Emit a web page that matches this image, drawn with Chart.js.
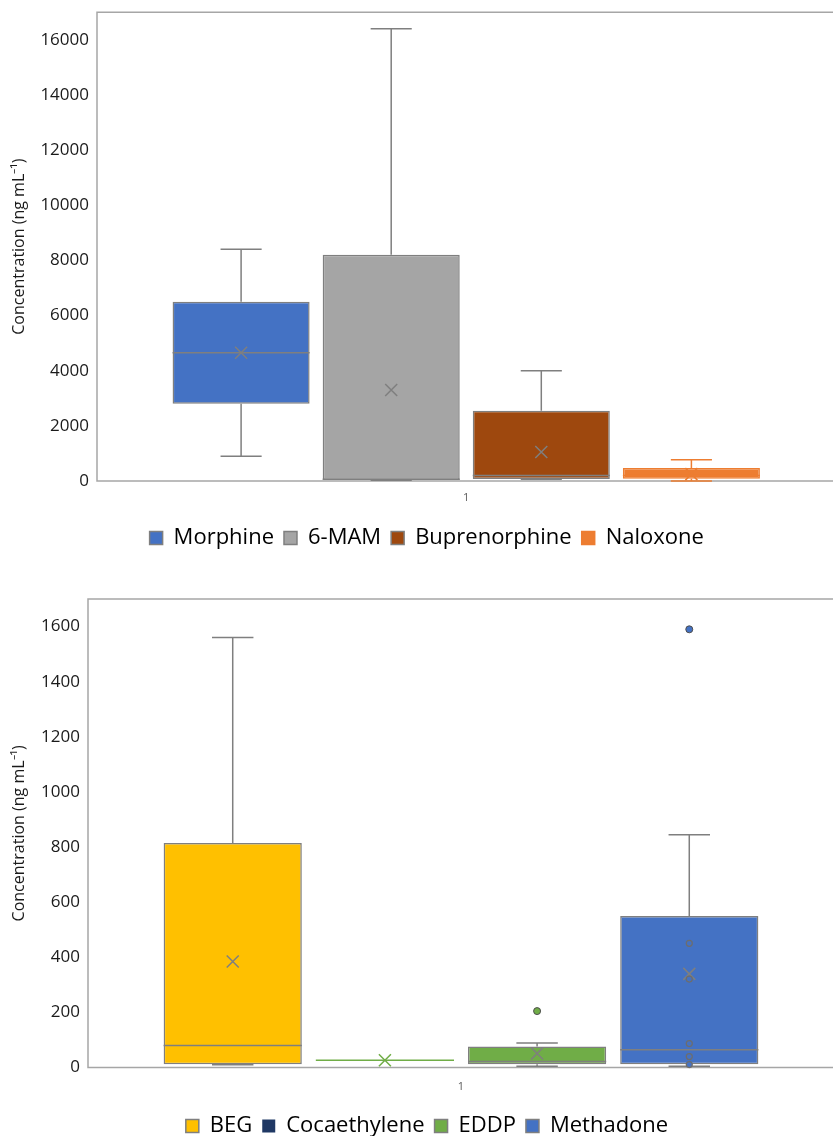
<!DOCTYPE html>
<html lang="en">
<head>
  <meta charset="UTF-8">
  <title>Drug concentrations - box plots</title>
  <script src="https://cdn.jsdelivr.net/npm/chart.js"></script>
  <style>
    html, body {
      margin: 0;
      padding: 0;
      background: #fff;
      overflow: hidden;
    }
    #page {
      position: relative;
      width: 833px;
      height: 1136px;
      overflow: hidden;
    }
    .chart-box {
      position: absolute;
      left: 0;
    }
    #topBox { top: -6px; }
    #bottomBox { top: 575px; }
  </style>
</head>
<body>
  <div id="page">
    <div class="chart-box" id="topBox"><canvas id="topChart" width="850" height="570"></canvas></div>
    <div class="chart-box" id="bottomBox"><canvas id="bottomChart" width="850" height="580"></canvas></div>
  </div>

  <script>
    const categories = ['1'];

    // top panel
    const topDrugs = ['Morphine', '6-MAM', 'Buprenorphine', 'Naloxone'];
    const topMin = [900, 30, 60, 0];
    const topQ1 = [2800, 40, 70, 80];
    const topMedian = [4650, 60, 200, 200];
    const topQ3 = [6500, 8200, 2550, 475];
    const topMax = [8400, 16400, 4000, 770];
    const topMean = [4650, 3300, 1050, 250];
    const topOutliers = [[], [], [], []];
    const topInner = [[], [], [], []];
    const topTicks = [0, 2000, 4000, 6000, 8000, 10000, 12000, 14000, 16000];
    const topAxisMax = 17000;

    // bottom panel
    const bottomDrugs = ['BEG', 'Cocaethylene', 'EDDP', 'Methadone'];
    const bottomMin = [10, 27, 5, 5];
    const bottomQ1 = [12, 27, 12, 12];
    const bottomMedian = [80, 27, 22, 65];
    const bottomQ3 = [815, 27, 77, 550];
    const bottomMax = [1560, 27, 89, 845];
    const bottomMean = [385, 27, 51, 340];
    const bottomOutliers = [[], [], [205], [1590]];
    const bottomInner = [[], [], [], [451, 321, 87, 40, 11]];
    const bottomTicks = [0, 200, 400, 600, 800, 1000, 1200, 1400, 1600];
    const bottomAxisMax = 1700;

    // colours
    const topFill = ['#4472c4', '#a5a5a5', '#9e480e', '#ed7d31'];
    const topLine = ['#7f7f7f', '#7f7f7f', '#7f7f7f', '#ed7d31'];
    const bottomFill = ['#ffc000', '#1f3864', '#70ad47', '#4472c4'];
    const bottomLine = ['#7f7f7f', '#70ad47', '#7f7f7f', '#7f7f7f'];

    Chart.defaults.font.family = "'Open Sans', sans-serif";
    Chart.defaults.color = '#1a1a1a';

    // frame + whiskers, medians, means and points, placed with the y scale
    const boxExtras = {
      id: 'boxExtras',
      beforeDatasetsDraw(chart) {
        const { ctx, chartArea: a } = chart;
        ctx.save();
        ctx.strokeStyle = '#a6a6a6';
        ctx.lineWidth = 1.5;
        ctx.beginPath();
        ctx.moveTo(a.right + 30, a.top);
        ctx.lineTo(a.left, a.top);
        ctx.lineTo(a.left, a.bottom);
        ctx.lineTo(a.right + 30, a.bottom);
        ctx.stroke();
        ctx.restore();
      },
      afterDatasetsDraw(chart) {
        const ctx = chart.ctx;
        const ys = chart.scales.y;
        const py = v => ys.getPixelForValue(v);
        chart.data.datasets.forEach((ds, i) => {
          const bar = chart.getDatasetMeta(i).data[0];
          if (!bar) return;
          const s = ds.stats;
          const cx = bar.x;
          const hw = bar.width / 2;
          const cap = bar.width * 0.15;
          ctx.save();
          ctx.strokeStyle = ds.lineColor;
          ctx.lineWidth = 1.5;
          ctx.beginPath();
          if (s.max > s.q3) {
            ctx.moveTo(cx, py(s.q3));
            ctx.lineTo(cx, py(s.max));
            ctx.moveTo(cx - cap, py(s.max));
            ctx.lineTo(cx + cap, py(s.max));
          }
          if (s.min < s.q1) {
            ctx.moveTo(cx, py(s.q1));
            ctx.lineTo(cx, py(s.min));
            ctx.moveTo(cx - cap, py(s.min));
            ctx.lineTo(cx + cap, py(s.min));
          }
          ctx.moveTo(cx - hw, py(s.median));
          ctx.lineTo(cx + hw, py(s.median));
          ctx.stroke();

          // mean marker
          const my = py(s.mean);
          const r = 6;
          ctx.beginPath();
          ctx.moveTo(cx - r, my - r);
          ctx.lineTo(cx + r, my + r);
          ctx.moveTo(cx + r, my - r);
          ctx.lineTo(cx - r, my + r);
          ctx.stroke();

          // inner points
          ctx.lineWidth = 1.2;
          s.inner.forEach(v => {
            ctx.beginPath();
            ctx.arc(cx, py(v), 3, 0, Math.PI * 2);
            ctx.fillStyle = ds.backgroundColor;
            ctx.fill();
            ctx.strokeStyle = '#6d6d6d';
            ctx.stroke();
          });

          // outliers
          s.outliers.forEach(v => {
            ctx.beginPath();
            ctx.arc(cx, py(v), 3.5, 0, Math.PI * 2);
            ctx.fillStyle = ds.backgroundColor;
            ctx.fill();
            ctx.strokeStyle = '#4d4d4d';
            ctx.lineWidth = 1;
            ctx.stroke();
          });
          ctx.restore();
        });
      }
    };

    // moves the legend after layout so it sits where the original has it
    const legendShift = {
      id: 'legendShift',
      afterLayout(chart, args, opts) {
        const lg = chart.legend;
        lg.left += opts.dx;
        lg.right += opts.dx;
        lg.top += opts.dy;
        lg.bottom += opts.dy;
      }
    };

    function makeChart(canvasId, p) {
      const datasets = p.drugs.map((name, i) => ({
        label: name,
        data: [[p.q1[i], p.q3[i]]],
        backgroundColor: p.fill[i],
        borderColor: p.q1[i] === p.q3[i] ? p.fill[i] : p.line[i],
        borderWidth: p.q1[i] === p.q3[i] ? 0 : 1.5,
        borderSkipped: false,
        lineColor: p.line[i],
        stats: {
          min: p.min[i], q1: p.q1[i], median: p.median[i], q3: p.q3[i],
          max: p.max[i], mean: p.mean[i],
          outliers: p.outliers[i], inner: p.inner[i]
        }
      }));

      return new Chart(document.getElementById(canvasId), {
        type: 'bar',
        data: { labels: categories, datasets: datasets },
        options: {
          responsive: false,
          animation: false,
          categoryPercentage: p.catPct,
          barPercentage: p.barPct,
          layout: { padding: { top: p.padTop, right: p.padRight, bottom: p.padBottom, left: 0 } },
          plugins: {
            tooltip: { enabled: false },
            legend: {
              position: 'bottom',
              labels: {
                font: { size: 22 },
                color: '#000',
                boxWidth: 13,
                boxHeight: 13,
                padding: 10
              }
            },
            legendShift: { dx: p.legendDx, dy: p.legendDy }
          },
          scales: {
            x: {
              grid: { display: false, drawTicks: false },
              border: { display: false },
              ticks: { font: { size: 11 }, color: '#595959', padding: p.xPad }
            },
            y: {
              min: 0,
              max: p.axisMax,
              grid: { display: false, drawTicks: false },
              border: { display: false },
              afterBuildTicks: scale => {
                scale.ticks = p.ticks.map(v => ({ value: v }));
              },
              afterFit: scale => {
                scale.width = p.yWidth;
              },
              ticks: {
                font: { size: 17 },
                color: '#1a1a1a',
                padding: 8,
                callback: v => String(v)
              },
              title: {
                display: true,
                text: 'Concentration (ng mL\u207B\u00B9)',
                font: { size: 16 },
                color: '#1a1a1a',
                padding: { top: 10, bottom: 0 }
              }
            }
          }
        },
        plugins: [boxExtras, legendShift]
      });
    }

    makeChart('topChart', {
      drugs: topDrugs, min: topMin, q1: topQ1, median: topMedian, q3: topQ3,
      max: topMax, mean: topMean, outliers: topOutliers, inner: topInner,
      fill: topFill, line: topLine, ticks: topTicks, axisMax: topAxisMax,
      catPct: 0.813, barPct: 0.913,
      padTop: 12, padRight: 14.5, padBottom: 7.8,
      yWidth: 97, xPad: 10, legendDx: 9, legendDy: 2.8
    });

    makeChart('bottomChart', {
      drugs: bottomDrugs, min: bottomMin, q1: bottomQ1, median: bottomMedian, q3: bottomQ3,
      max: bottomMax, mean: bottomMean, outliers: bottomOutliers, inner: bottomInner,
      fill: bottomFill, line: bottomLine, ticks: bottomTicks, axisMax: bottomAxisMax,
      catPct: 0.816, barPct: 0.908,
      padTop: 24, padRight: 16, padBottom: 7.4,
      yWidth: 88, xPad: 12.4, legendDx: 10, legendDy: -0.6
    });
  </script>
</body>
</html>
